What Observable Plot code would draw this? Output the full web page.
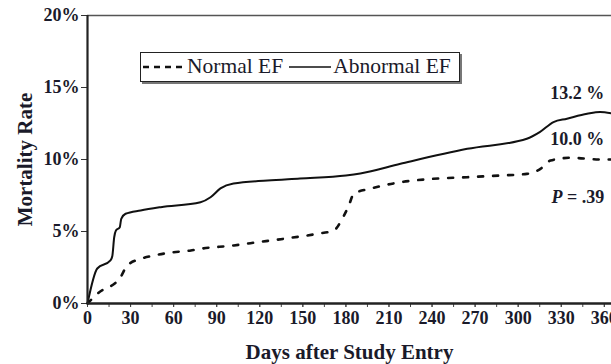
<!DOCTYPE html>
<html>
<head>
<meta charset="utf-8">
<script src="https://cdn.jsdelivr.net/npm/d3@7"></script>
<script src="https://cdn.jsdelivr.net/npm/@observablehq/plot@0.6"></script>
<style>
  html, body { margin: 0; padding: 0; background: #fff; }
  #chart { position: relative; width: 611px; height: 364px; }
  #legend {
    position: absolute; left: 140px; top: 52px; width: 318px; height: 28px;
    border: 1.5px solid #222; box-shadow: 2px 2px 0 #777; background: #fff;
    display: flex; align-items: center; box-sizing: content-box;
  }
  #legend .item { display: flex; align-items: center; }
  #legend span {
    font-family: 'Liberation Serif', 'Times New Roman', Times, serif;
    font-size: 21.5px; color: #1a1a2a; line-height: 1;
  }
  #legend svg { display: block; }
</style>
</head>
<body>
<div id="chart"></div>
<script>
// Cumulative mortality (%) by days after study entry
const seriesNames = ["Normal EF", "Abnormal EF"];

const normalDays = [0, 6.8, 23, 27.7, 37, 46, 60, 72, 78.7, 102, 113.5, 136.5, 160, 171.6, 177.4, 182, 185.5, 197, 209, 218, 241, 264.5, 287.7, 306, 315.5, 322.5, 336.5, 357, 365];
const normalRate = [0, 0.67, 1.83, 2.64, 3.10, 3.33, 3.56, 3.68, 3.80, 4.03, 4.19, 4.49, 4.84, 5.07, 5.88, 6.8, 7.62, 7.97, 8.26, 8.42, 8.66, 8.77, 8.89, 9.0, 9.35, 9.93, 10.12, 10.0, 10.0];

const abnormalDays = [0, 6.8, 16, 17.3, 18.6, 19.8, 22.5, 23.5, 26.5, 37, 51, 78.7, 85.7, 92.6, 101.7, 125.4, 148, 180, 190, 218, 264.5, 306, 315, 324.6, 334, 348, 357, 365];
const abnormalRate = [0, 2.43, 2.99, 3.3, 4.6, 5.07, 5.3, 5.88, 6.23, 6.46, 6.69, 7.03, 7.38, 7.99, 8.33, 8.54, 8.68, 8.89, 9.03, 9.70, 10.74, 11.44, 11.9, 12.6, 12.83, 13.17, 13.3, 13.2];

const yTicks = [0, 5, 10, 15, 20];
const xLabelTicks = [0, 30, 60, 90, 120, 150, 180, 210, 240, 270, 300, 330, 360];
const xMinorTicks = d3.range(0, 361, 15);

const endLabels = ["10.0 %", "13.2 %"];
const endValues = [10.0, 13.2];
const pValue = "P = .39";
const pValueLevel = 7.36;

const xTitle = "Days after Study Entry";
const yTitle = "Mortality Rate";

const normal = normalDays.map((d, i) => ({day: d, rate: normalRate[i]}));
const abnormal = abnormalDays.map((d, i) => ({day: d, rate: abnormalRate[i]}));
const ends = endLabels.map((t, i) => ({label: t, day: 360, rate: endValues[i]}));

const ink = "#1a1a2a";

const plot = Plot.plot({
  width: 611,
  height: 364,
  marginLeft: 87,
  marginRight: 0,
  marginTop: 15,
  marginBottom: 61,
  style: {fontFamily: "'Liberation Serif', 'Times New Roman', serif", fontSize: "18px", color: ink, background: "#fff"},
  x: {domain: [0, 365]},
  y: {domain: [0, 20]},
  marks: [
    Plot.ruleY([20], {stroke: "#555", strokeWidth: 1.5}),
    Plot.axisX({ticks: xMinorTicks, tickSize: 4, text: null, stroke: "#444", label: null}),
    Plot.axisX({ticks: xLabelTicks, tickSize: 4, tickPadding: 4, fontWeight: "bold", fontSize: 18, fill: ink, stroke: "#444", label: null}),
    Plot.axisY({ticks: yTicks, tickSize: 6, tickPadding: 2, tickFormat: d => d + "%", fontWeight: "bold", fontSize: 18, fill: ink, stroke: "#333", label: null}),
    Plot.line(normal, {x: "day", y: "rate", curve: "monotone-x", stroke: "#111", strokeWidth: 2.6, strokeDasharray: "5,10"}),
    Plot.line(abnormal, {x: "day", y: "rate", curve: "monotone-x", stroke: "#111", strokeWidth: 2}),
    Plot.ruleX([0], {stroke: "#222", strokeWidth: 2.2}),
    Plot.ruleY([0], {stroke: "#222", strokeWidth: 2.6}),
    Plot.text(ends, {x: "day", y: "rate", text: "label", textAnchor: "end", dy: -20, fontWeight: "bold", fontSize: 18, fill: ink}),
    Plot.text([pValue], {x: 360, y: pValueLevel, textAnchor: "end", fontWeight: "bold", fontSize: 18, fill: ink, className: "pval"}),
    Plot.text([xTitle], {frameAnchor: "bottom", textAnchor: "middle", lineAnchor: "middle", dy: 49, fontWeight: "bold", fontSize: 21, fill: ink}),
    Plot.text([yTitle], {frameAnchor: "left", textAnchor: "middle", lineAnchor: "middle", rotate: -90, dx: -62, fontWeight: "bold", fontSize: 21, fill: ink})
  ]
});

// italic P in the p-value note
d3.select(plot).selectAll(".pval text").each(function() {
  const t = d3.select(this);
  const s = t.text();
  t.text(null);
  t.append("tspan").attr("font-style", "italic").text(s.slice(0, 1));
  t.append("tspan").text(s.slice(1));
});

const chart = document.getElementById("chart");
chart.appendChild(plot);

// legend box drawn inside the plot area
const legend = document.createElement("div");
legend.id = "legend";
const samples = [
  {dash: "6,5", width: 42},
  {dash: null, width: 42}
];
seriesNames.forEach((name, i) => {
  const item = document.createElement("div");
  item.className = "item";
  item.style.marginLeft = i === 0 ? "2px" : "6px";
  const s = samples[i];
  const svg = d3.create("svg").attr("width", s.width).attr("height", 10);
  svg.append("line").attr("x1", 0).attr("x2", s.width).attr("y1", 5).attr("y2", 5)
    .attr("stroke", "#111").attr("stroke-width", i === 0 ? 2.6 : 1.6)
    .attr("stroke-dasharray", s.dash);
  item.appendChild(svg.node());
  const label = document.createElement("span");
  label.textContent = name;
  label.style.marginLeft = "2px";
  item.appendChild(label);
  legend.appendChild(item);
});
chart.appendChild(legend);
</script>
</body>
</html>
